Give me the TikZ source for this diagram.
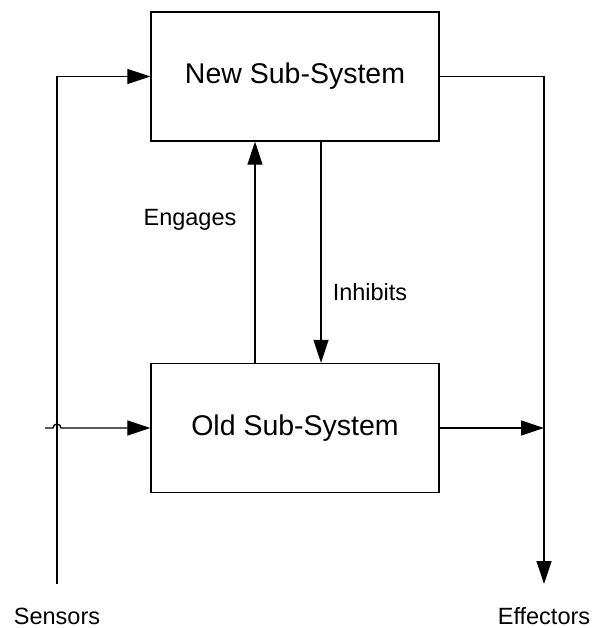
\documentclass[tikz,border=0pt]{standalone}
\usepackage{fontspec}
\setmainfont{Liberation Sans}
\usetikzlibrary{arrows.meta}
\begin{document}
\begin{tikzpicture}[x=1pt,y=-1pt,
  every node/.style={font=\fontsize{23.5}{28}\selectfont},
  sysbox/.style={draw,line width=1.4pt,minimum width=288pt,minimum height=129pt,inner sep=0pt,font=\fontsize{28.5}{34}\selectfont},
  lbl/.style={inner sep=0pt},
  conn/.style={line width=1.3pt},
  arr/.style={conn,-{Triangle[length=23pt,width=15pt]}}]
\useasboundingbox (0,0) rectangle (594,628);
\node[sysbox] (new) at (295,76.5) {New Sub-System};
\node[sysbox] (old) at (295,428) {Old Sub-System};
\coordinate (sb) at (57,584);
\coordinate (eb) at (544,584);
\coordinate (oin) at (45,428);
\node[lbl] (sensors) at (57,616) {Sensors};
\node[lbl] (effectors) at (544,616) {Effectors};
\node[lbl] (engages) at (190,220) {Engages};
\node[lbl] (inhibits) at (370,292) {Inhibits};
% sensor input to new sub-system
\draw[arr] (sb) |- (new.west);
% sensor input to old sub-system, hopping over the sensor line
\draw[arr] (oin) -- ++(8,0) arc[start angle=180,end angle=360,radius=4] -- (old.west);
% outputs
\draw[arr] (new.east) -| (eb);
\draw[arr] (old.east) -- (old.east -| eb);
% engages / inhibits
\draw[arr] (old.north -| 255,0) -- (new.south -| 255,0);
\draw[arr] (new.south -| 321,0) -- (old.north -| 321,0);
\end{tikzpicture}
\end{document}
